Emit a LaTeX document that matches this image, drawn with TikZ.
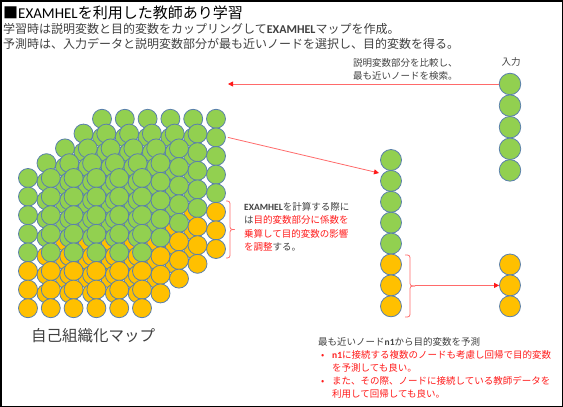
\documentclass[tikz,border=0pt]{standalone}
\usepackage{fontspec}
\setmainfont{Noto Sans CJK JP}
\newfontfamily\crl{Carlito}
\usetikzlibrary{arrows.meta}
\definecolor{gr}{HTML}{92D050}
\definecolor{orr}{HTML}{FFC000}
\definecolor{bl}{HTML}{5A80AC}
\definecolor{tx}{HTML}{404040}
\definecolor{rd}{HTML}{FF1A1A}
\definecolor{rl}{HTML}{FF6A6A}
\newcommand{\exb}[1]{{\crl\bfseries #1}}
\begin{document}
\begin{tikzpicture}[x=1pt,y=-1pt,
  ball/.style={circle,draw=bl,line width=0.8pt,inner sep=0pt,minimum size=19pt},
  bigball/.style={ball,minimum size=21pt},
  txt/.style={inner sep=0pt,anchor=west,text=tx,align=left},
  rarrow/.style={draw=rl,line width=0.8pt,-{Triangle[length=5pt,width=5pt,color=rd]}},
  rbrace/.style={draw=rl,line width=0.8pt,rounded corners=2.5pt}]
\path[use as bounding box] (0,0) rectangle (563,407);
\draw[line width=1.5pt] (0.75,0.75) rectangle (562.25,406.25);

% texts
\node[txt,text=black,font=\fontsize{15}{18}\selectfont] (title) at (3,13) {■\crl EXAMHEL\rmfamily を利用した教師あり学習};
\node[txt,font=\fontsize{12}{15}\selectfont] (l2) at (3,29) {学習時は説明変数と目的変数をカップリングして\exb{EXAMHEL}マップを作成。};
\node[txt,font=\fontsize{12}{15}\selectfont] (l3) at (3,44) {予測時は、入力データと説明変数部分が最も近いノードを選択し、目的変数を得る。};
\node[txt,anchor=north west,font=\fontsize{9.5}{13}\selectfont] (cmp) at (353,58) {説明変数部分を比較し、\\最も近いノードを検索。};
\node[inner sep=0pt,text=tx,font=\fontsize{9.5}{12}\selectfont] (inlab) at (511,62) {入力};
\node[txt,anchor=north west,font=\fontsize{9.5}{13.5}\selectfont] (calc) at (244,202) {\exb{EXAMHEL}を計算する際に\\は\textcolor{rd}{目的変数部分に係数を}\\\textcolor{rd}{乗算して目的変数の影響}\\\textcolor{rd}{を調整}する。};
\node[inner sep=0pt,text=tx,font=\fontsize{15.5}{18}\selectfont] (som) at (93,336) {自己組織化マップ};
\node[txt,anchor=north west,font=\fontsize{9.5}{13}\selectfont] (pred) at (318,337) {最も近いノード\exb{n1}から目的変数を予測\\
\textcolor{rd}{\makebox[14pt][l]{\hspace{3pt}•}\exb{n1}に接続する複数のノードも考慮し回帰で目的変数}\\
\textcolor{rd}{\hspace{14pt}を予測しても良い。}\\
\textcolor{rd}{\makebox[14pt][l]{\hspace{3pt}•}また、その際、ノードに接続している教師データを}\\
\textcolor{rd}{\hspace{14pt}利用して回帰しても良い。}};

% cube of nodes
\foreach \k in {4,3,2,1,0}{
  \foreach \r in {0,...,7}{
    \foreach \c in {0,...,5}{
      \pgfmathsetmacro\xx{28+22.8*\c+18.5*\k}
      \pgfmathsetmacro\yy{178+18.6*\r-14.8*\k}
      \ifnum\r<5 \def\fc{gr}\else\def\fc{orr}\fi
      \node[ball,fill=\fc] (c\k-\r-\c) at (\xx,\yy) {};
    }
  }
}

% input vector
\foreach \i in {1,...,5}{
  \pgfmathsetmacro\yy{84+21.6*(\i-1)}
  \node[ball,minimum size=21.5pt,fill=gr] (in\i) at (510,\yy) {};
}
% winning node vector
\foreach \i in {1,...,8}{
  \pgfmathsetmacro\yy{160+20.9*(\i-1)}
  \ifnum\i<6 \def\fc{gr}\else\def\fc{orr}\fi
  \node[bigball,fill=\fc] (m\i) at (391,\yy) {};
}
% predicted output
\foreach \i in {1,2,3}{
  \pgfmathsetmacro\yy{264.5+20.9*(\i-1)}
  \node[bigball,fill=orr] (o\i) at (510,\yy) {};
}

% connectors
\coordinate (cubein) at (228,84);
\draw[rarrow] (in1.west) -- (cubein);
\coordinate (mtarget) at (379,173);
\draw[rarrow] ([xshift=2pt]c4-1-5.east) -- (mtarget);

% brace at cube
\draw[rbrace] (226,201) -- (230,201) -- (230,229.5) -- (234.5,229.5);
\draw[rbrace] (226,258) -- (230,258) -- (230,229.5) -- (234.5,229.5);
% brace at winning node
\draw[rbrace] (405,255) -- (410,255) -- (410,286) -- (415,286);
\draw[rbrace] (405,317) -- (410,317) -- (410,286) -- (415,286);
\coordinate (btip) at (415,285.4);
\draw[rarrow] (btip) -- (o2.west);
\end{tikzpicture}
\end{document}
